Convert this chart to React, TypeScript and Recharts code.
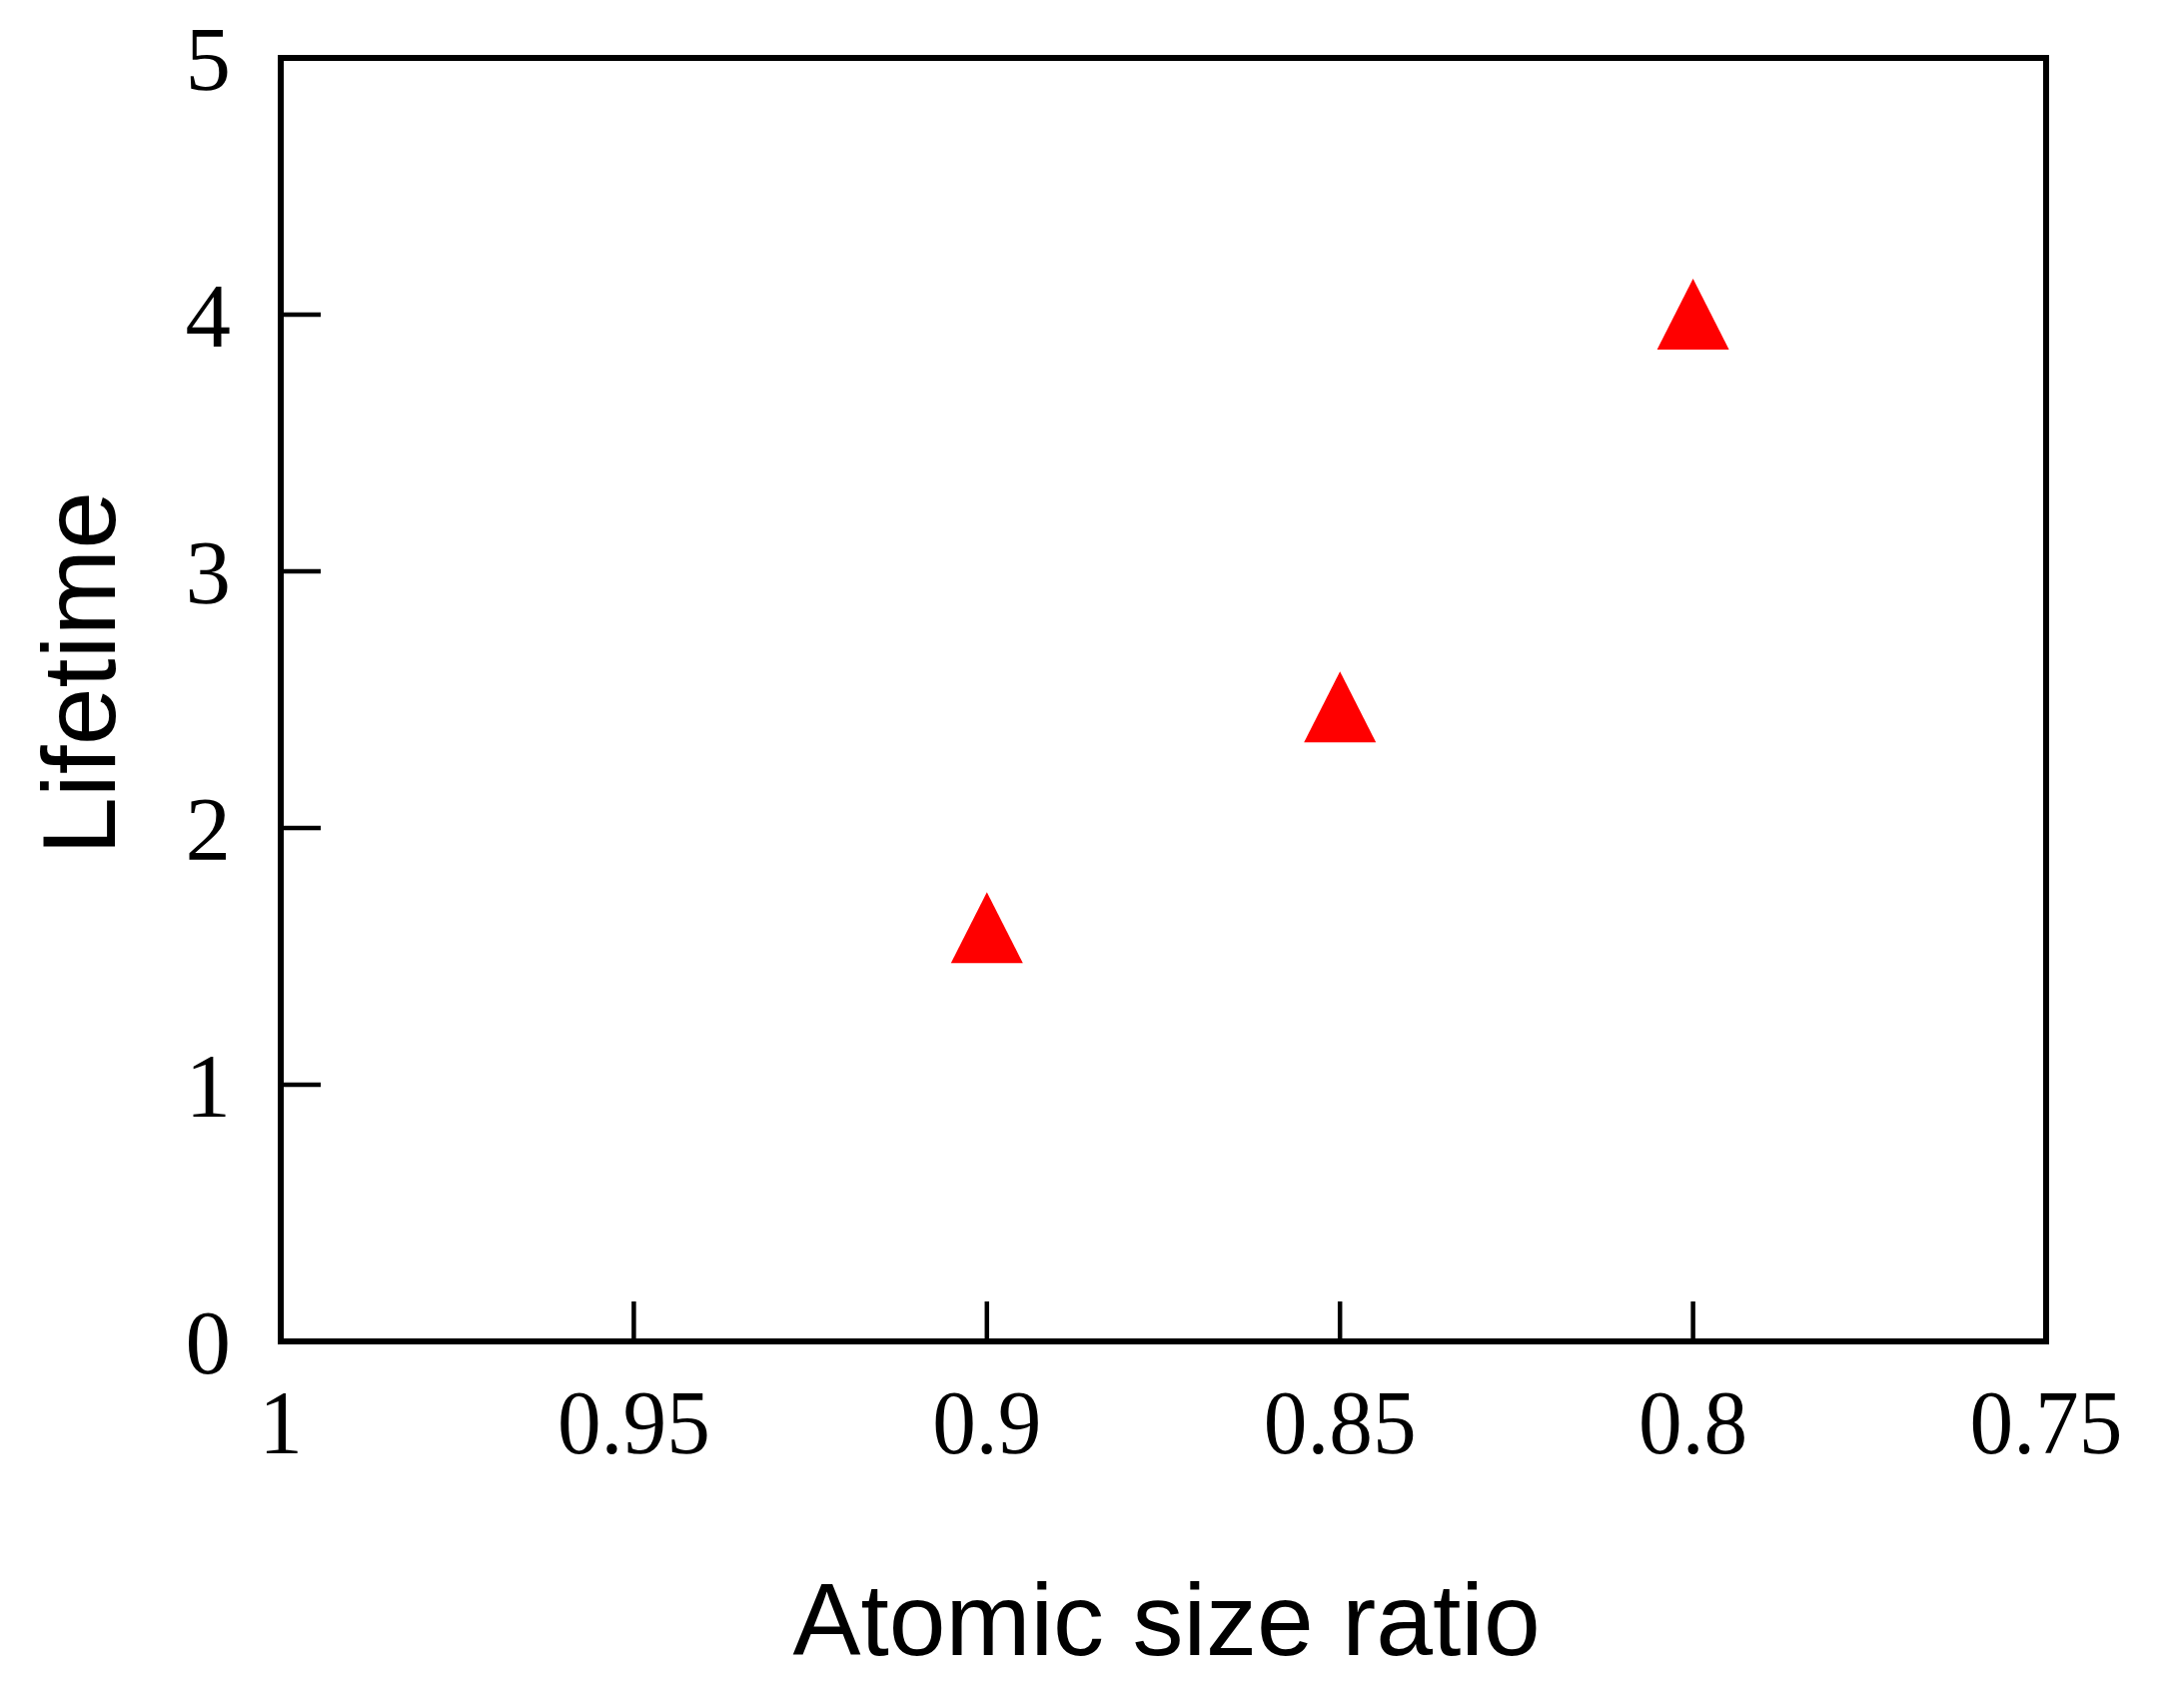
import { ScatterChart, Scatter, XAxis, YAxis, ReferenceArea, Label } from 'recharts'

// values
const ratio = [0.9, 0.85, 0.8]
const lifetime = [1.61, 2.47, 4.0]
const xTicks = [1, 0.95, 0.9, 0.85, 0.8, 0.75]
const yTicks = [0, 1, 2, 3, 4, 5]

const points = ratio.map((r, i) => ({ ratio: r, lifetime: lifetime[i] }))

const W = 2186
const H = 1694
const PLOT_L = 281
const PLOT_R = 2048
const PLOT_T = 58
const PLOT_B = 1343
const Y_AXIS_W = 200
const X_AXIS_H = 300

const serif = '"Liberation Serif", "Times New Roman", serif'
const sans = '"Liberation Sans", Arial, sans-serif'

function XTick({ x, y, payload }: any) {
  return (
    <g>
      <line x1={x} x2={x} y1={y} y2={y - 40} stroke="#000" strokeWidth={4.5} />
      <text
        x={x}
        y={y + 112}
        textAnchor="middle"
        fontFamily={serif}
        fontSize={92}
        fill="#000"
        transform={`translate(${x},0) scale(0.95,1) translate(${-x},0)`}
      >
        {String(payload.value)}
      </text>
    </g>
  )
}

function YTick({ x, y, payload }: any) {
  return (
    <g>
      <line x1={x} x2={x + 40} y1={y} y2={y} stroke="#000" strokeWidth={4.5} />
      <text x={x - 50} y={y + 32} textAnchor="end" fontFamily={serif} fontSize={91} fill="#000">
        {String(payload.value)}
      </text>
    </g>
  )
}

function Triangle({ cx, cy }: any) {
  return <polygon points={`${cx},${cy - 36} ${cx + 36},${cy + 35} ${cx - 36},${cy + 35}`} fill="#ff0000" />
}

export default function App() {
  return (
    <div style={{ position: 'absolute', left: 0, top: 0, width: W, height: H, background: '#fff' }}>
      <ScatterChart
        width={W}
        height={H}
        margin={{ top: PLOT_T, right: W - PLOT_R, bottom: H - PLOT_B - X_AXIS_H, left: PLOT_L - Y_AXIS_W }}
      >
        <XAxis
          type="number"
          dataKey="ratio"
          domain={[0.75, 1]}
          ticks={xTicks}
          reversed
          interval={0}
          height={X_AXIS_H}
          axisLine={false}
          tickLine={false}
          tickSize={0}
          tickMargin={0}
          tick={<XTick />}
        >
          <Label
            content={() => (
              <text x={(PLOT_L + PLOT_R) / 2 + 3} y={1657} textAnchor="middle" fontFamily={sans} fontSize={102} fill="#000">
                Atomic size ratio
              </text>
            )}
          />
        </XAxis>
        <YAxis
          type="number"
          dataKey="lifetime"
          domain={[0, 5]}
          ticks={yTicks}
          interval={0}
          width={Y_AXIS_W}
          axisLine={false}
          tickLine={false}
          tickSize={0}
          tickMargin={0}
          tick={<YTick />}
        >
          <Label
            content={() => (
              <text
                x={115}
                y={674}
                transform="rotate(-90, 115, 674)"
                textAnchor="middle"
                fontFamily={sans}
                fontSize={104}
                fill="#000"
              >
                Lifetime
              </text>
            )}
          />
        </YAxis>
        <ReferenceArea x1={1} x2={0.75} y1={0} y2={5} fill="none" stroke="#000" strokeWidth={6} />
        <Scatter data={points} fill="#ff0000" shape={<Triangle />} isAnimationActive={false} />
      </ScatterChart>
    </div>
  )
}
